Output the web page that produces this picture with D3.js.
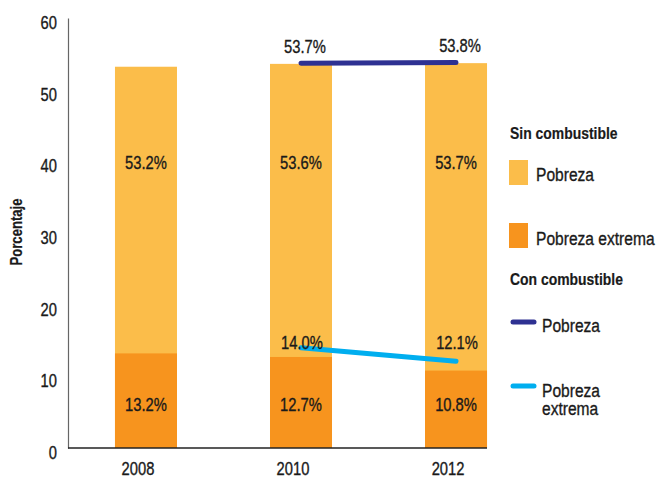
<!DOCTYPE html>
<html>
<head>
<meta charset="utf-8">
<script src="https://cdnjs.cloudflare.com/ajax/libs/d3/7.8.5/d3.min.js"></script>
<style>
  body { margin: 0; background: #fff; }
  svg text { font-family: "Liberation Sans", Arial, sans-serif; fill: #1a1a1a; stroke: #1a1a1a; stroke-width: 0.35px; }
  svg text.bold { stroke-width: 0.2px; }
</style>
</head>
<body>
<svg width="659" height="477"></svg>
<script>
// data
const years = ['2008', '2010', '2012'];
const pobrezaSin = [53.2, 53.6, 53.7];
const extremaSin = [13.2, 12.7, 10.8];
const conYears = ['2010', '2012'];
const pobrezaCon = [53.7, 53.8];
const extremaCon = [14.0, 12.1];
const yTicks = [0, 10, 20, 30, 40, 50, 60];

const colLight = '#fbbd4a';
const colDark = '#f7941e';
const colNavy = '#2e3192';
const colCyan = '#00aeef';

const svg = d3.select('svg');

// no condensed face installed, so squeeze Liberation Sans sideways
function narrow(sel, k = 0.82) {
    sel.each(function () {
        const t = d3.select(this);
        const px = +t.attr('x') || 0, py = +t.attr('y') || 0;
        const pre = t.attr('transform') || '';
        t.attr('x', null).attr('y', null)
            .attr('transform', `${pre} translate(${px},${py}) scale(${k},1)`);
    });
}

const x = d3.scaleBand()
    .domain(years)
    .range([68, 534])
    .paddingInner(0.6)
    .paddingOuter(0.303);

const y = d3.scaleLinear()
    .domain([0, 60])
    .range([448, 18]);

const cx = d => x(d) + x.bandwidth() / 2;
const fmt = v => v.toFixed(1) + '%';

// y axis
let yAxis = d3.axisLeft(y).tickValues(yTicks).tickSize(0).tickPadding(11);
let gy = svg.append('g')
    .attr('transform', 'translate(68,0)')
    .call(yAxis);
gy.select('.domain').attr('stroke', '#666').attr('stroke-width', 1.2);
gy.selectAll('text')
    .attr('dy', '0.58em')
    .style('font-size', '18px')
    .style('font-family', '"Liberation Sans", Arial, sans-serif')
    .call(narrow);

// bars
let bars = svg.append('g');
bars.selectAll('.pob')
    .data(years)
    .enter()
    .append('rect')
    .attr('x', d => x(d))
    .attr('width', x.bandwidth())
    .attr('y', (d, i) => y(pobrezaSin[i]))
    .attr('height', (d, i) => y(0) - y(pobrezaSin[i]))
    .style('fill', colLight);

bars.selectAll('.ext')
    .data(years)
    .enter()
    .append('rect')
    .attr('x', d => x(d))
    .attr('width', x.bandwidth())
    .attr('y', (d, i) => y(extremaSin[i]))
    .attr('height', (d, i) => y(0) - y(extremaSin[i]))
    .style('fill', colDark);

// baseline
svg.append('line')
    .attr('x1', 68).attr('x2', x(years[2]) + x.bandwidth())
    .attr('y1', y(0)).attr('y2', y(0))
    .attr('stroke', '#222').attr('stroke-width', 1.5);

// x labels
svg.selectAll('.xl')
    .data(years)
    .enter()
    .append('text')
    .attr('x', d => cx(d) - 8)
    .attr('y', 475)
    .attr('text-anchor', 'middle')
    .style('font-size', '18px')
    .text(d => d)
    .call(narrow);

// labels inside bars
svg.selectAll('.lp')
    .data(years)
    .enter()
    .append('text')
    .attr('x', d => cx(d))
    .attr('y', y(39.8))
    .attr('dy', '0.36em')
    .attr('text-anchor', 'middle')
    .style('font-size', '18px')
    .text((d, i) => fmt(pobrezaSin[i]))
    .call(narrow);

svg.selectAll('.le')
    .data(years)
    .enter()
    .append('text')
    .attr('x', d => cx(d))
    .attr('y', y(6))
    .attr('dy', '0.36em')
    .attr('text-anchor', 'middle')
    .style('font-size', '18px')
    .text((d, i) => fmt(extremaSin[i]))
    .call(narrow);

// con combustible lines
const line = d3.line().x(d => cx(d[0])).y(d => y(d[1]));

svg.append('path')
    .datum(d3.zip(conYears, pobrezaCon))
    .attr('d', line)
    .attr('fill', 'none')
    .attr('stroke', colNavy)
    .attr('stroke-width', 5)
    .attr('stroke-linecap', 'round');

svg.append('path')
    .datum(d3.zip(conYears, extremaCon))
    .attr('d', line)
    .attr('fill', 'none')
    .attr('stroke', colCyan)
    .attr('stroke-width', 5)
    .attr('stroke-linecap', 'round');

svg.selectAll('.lpc')
    .data(conYears)
    .enter()
    .append('text')
    .attr('x', d => cx(d) + 4)
    .attr('y', (d, i) => y(pobrezaCon[i]) - 17)
    .attr('dy', '0.36em')
    .attr('text-anchor', 'middle')
    .style('font-size', '18px')
    .text((d, i) => fmt(pobrezaCon[i]))
    .call(narrow);

svg.selectAll('.lec')
    .data(conYears)
    .enter()
    .append('text')
    .attr('x', d => cx(d) + 1)
    .attr('y', y(d3.max(extremaCon)) - 5)
    .attr('dy', '0.36em')
    .attr('text-anchor', 'middle')
    .style('font-size', '18px')
    .text((d, i) => fmt(extremaCon[i]))
    .call(narrow);

// y-axis title
svg.append('text')
    .attr('class', 'bold')
    .attr('transform', 'rotate(-90)')
    .attr('x', -232)
    .attr('y', 22)
    .attr('text-anchor', 'middle')
    .style('font-size', '16px')
    .style('font-weight', 'bold')
    .text('Porcentaje')
    .call(narrow);

// legend
let lg = svg.append('g').attr('transform', 'translate(509,0)');
lg.append('text').attr('class', 'bold').attr('x', 1).attr('y', 133).attr('dy', '0.36em')
    .style('font-size', '17px').style('font-weight', 'bold').text('Sin combustible');
lg.append('rect').attr('x', 0).attr('y', 160).attr('width', 19).attr('height', 25).style('fill', colLight);
lg.append('text').attr('x', 27).attr('y', 174).attr('dy', '0.36em')
    .style('font-size', '19px').text('Pobreza');
lg.append('rect').attr('x', 0).attr('y', 223).attr('width', 19).attr('height', 25).style('fill', colDark);
lg.append('text').attr('x', 27).attr('y', 238).attr('dy', '0.36em')
    .style('font-size', '19px').text('Pobreza extrema');
lg.append('text').attr('class', 'bold').attr('x', 1).attr('y', 279).attr('dy', '0.36em')
    .style('font-size', '17px').style('font-weight', 'bold').text('Con combustible');
lg.append('line').attr('x1', 4).attr('x2', 25).attr('y1', 322).attr('y2', 322)
    .attr('stroke', colNavy).attr('stroke-width', 5).attr('stroke-linecap', 'round');
lg.append('text').attr('x', 33).attr('y', 325).attr('dy', '0.36em')
    .style('font-size', '19px').text('Pobreza');
lg.append('line').attr('x1', 4).attr('x2', 25).attr('y1', 386).attr('y2', 386)
    .attr('stroke', colCyan).attr('stroke-width', 5).attr('stroke-linecap', 'round');
let two = lg.append('text').attr('x', 33).attr('y', 390).attr('dy', '0.36em')
    .style('font-size', '19px');
two.append('tspan').attr('x', 0).text('Pobreza');
two.append('tspan').attr('x', 0).attr('dy', 18).text('extrema');
lg.selectAll('text').call(narrow);
</script>
</body>
</html>
